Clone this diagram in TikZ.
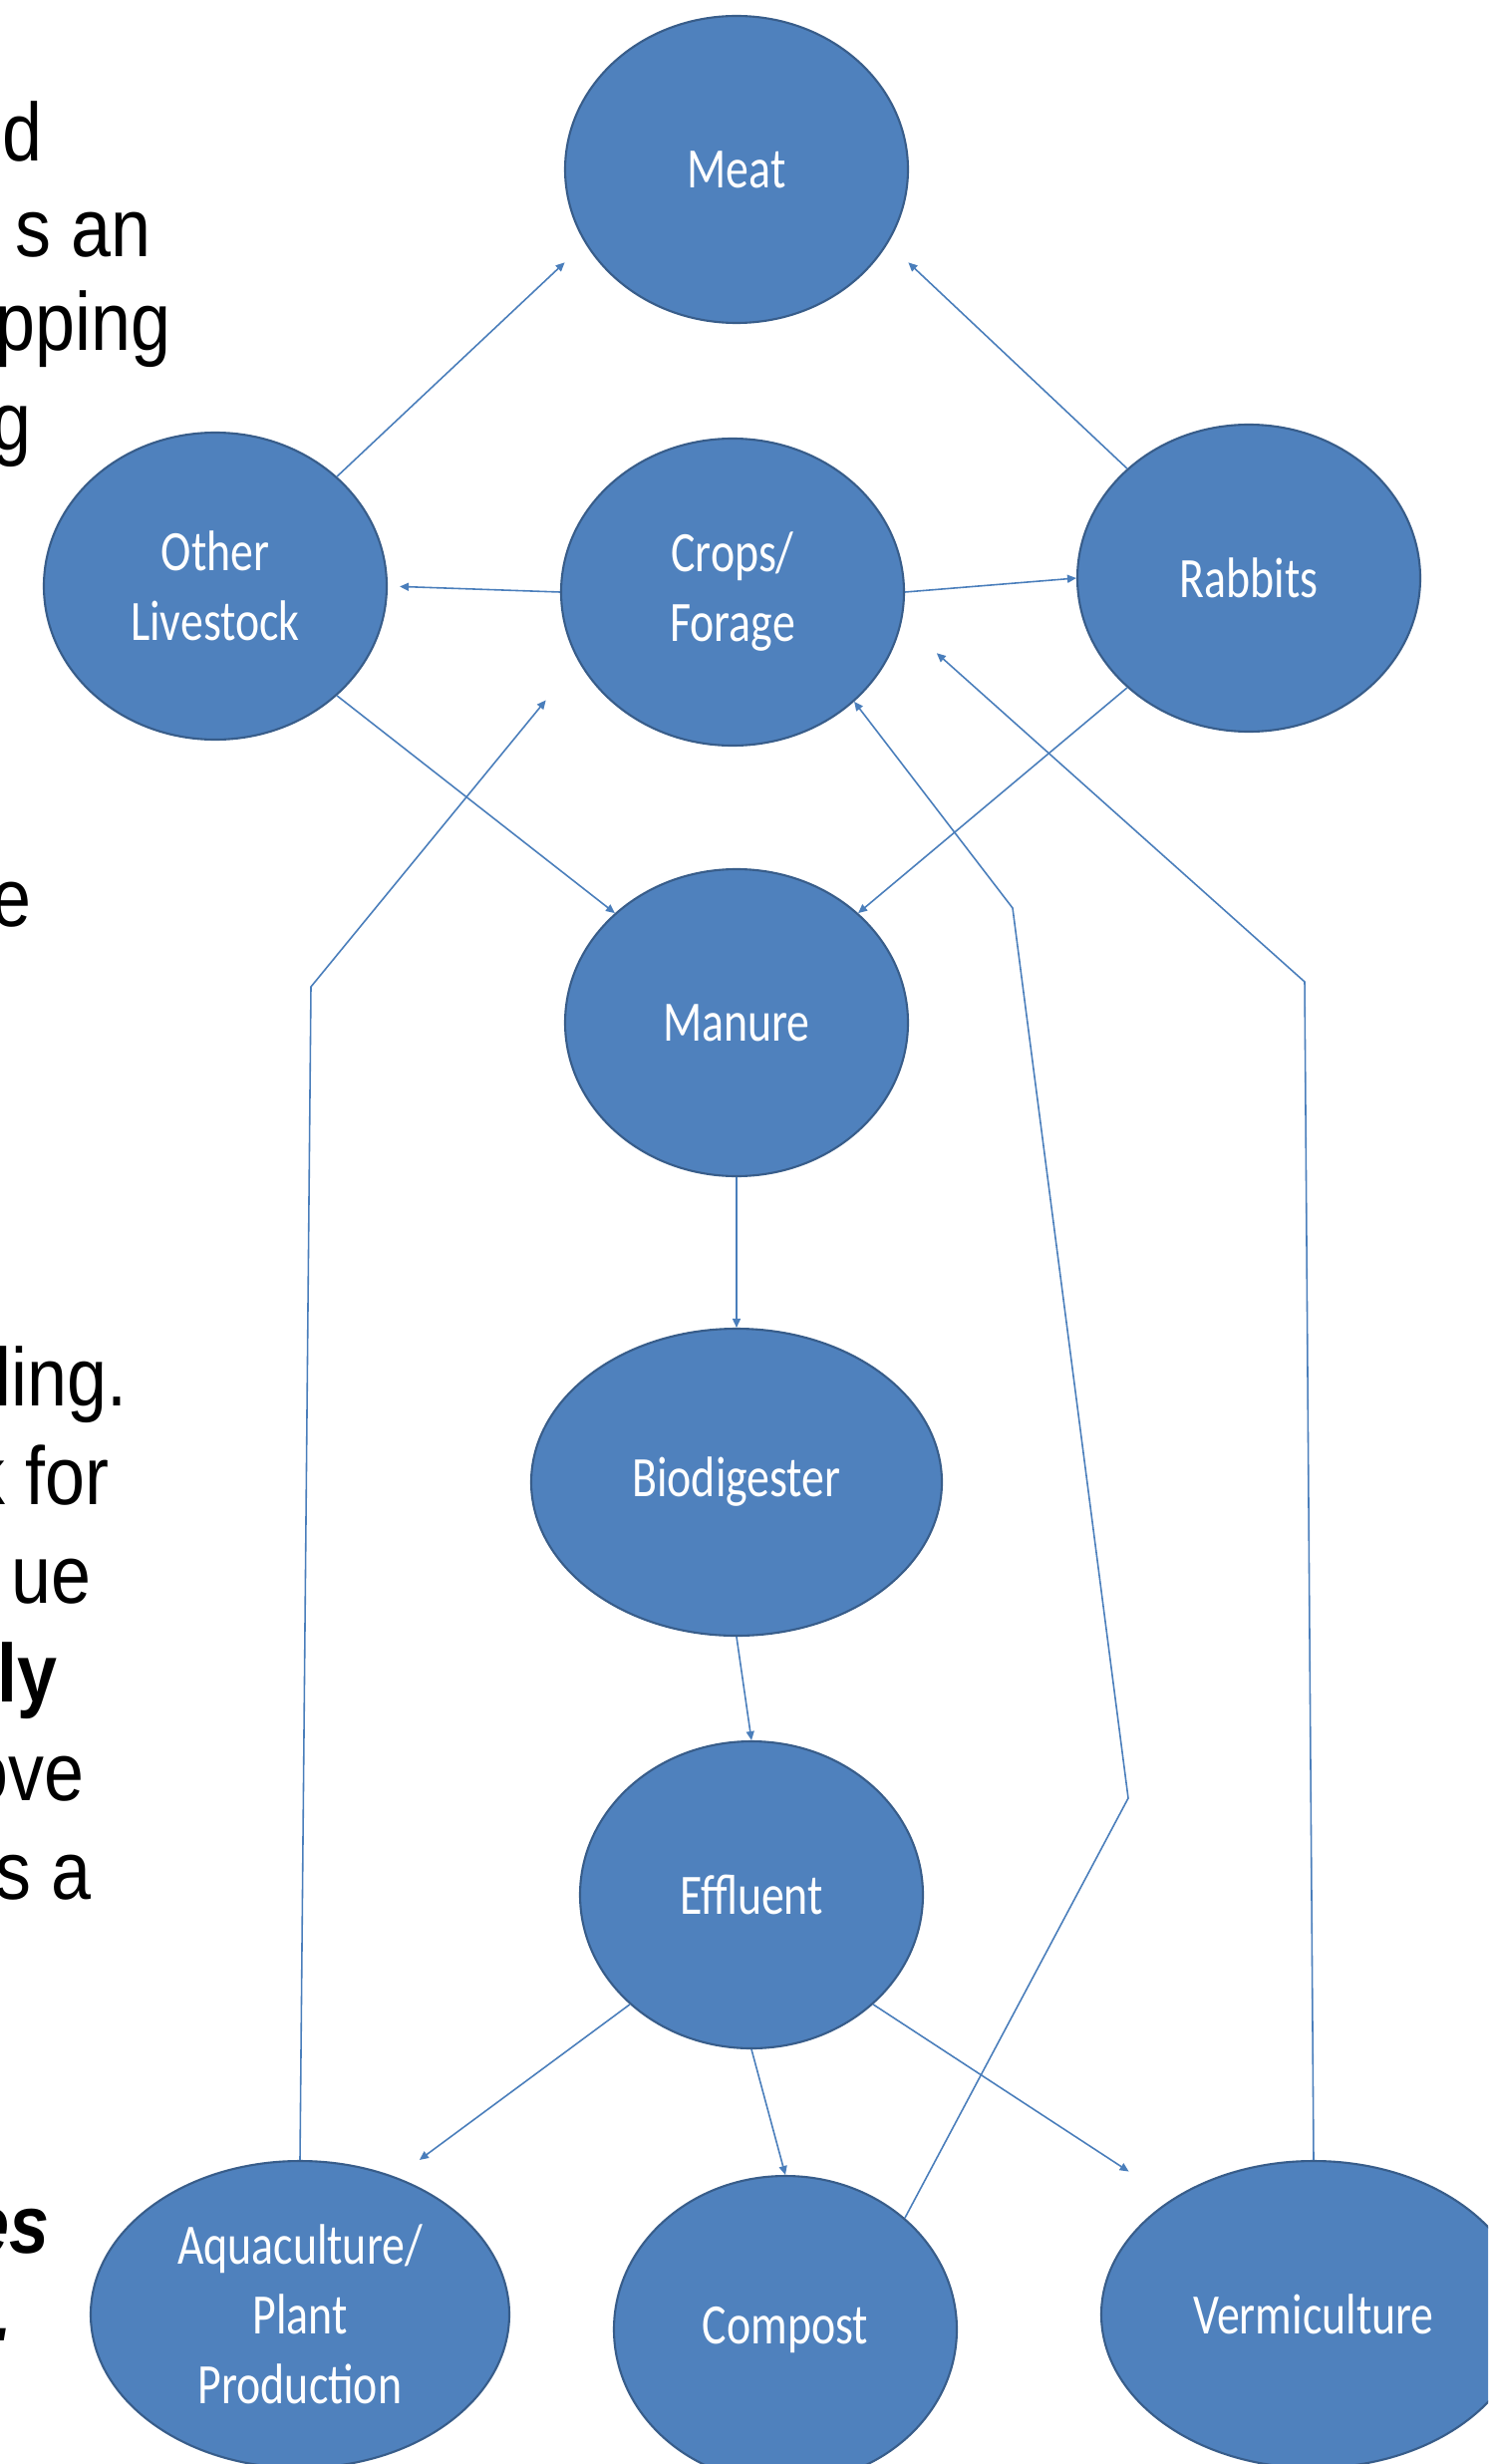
\documentclass[tikz,border=0pt]{standalone}
\usepackage{fontspec}
\usetikzlibrary{calc,shapes.geometric,arrows.meta}
\newfontfamily\labelfont[FakeStretch=0.8]{Carlito}
\newfontfamily\slidefont[FakeStretch=0.87]{Liberation Sans}
\definecolor{nodeblue}{HTML}{4F81BD}
\definecolor{rimblue}{HTML}{385D8A}
\definecolor{linkblue}{HTML}{4A7EBB}
\tikzset{
	stage/.style={ellipse, draw=rimblue, line width=0.6pt, fill=nodeblue, text=white, inner sep=0pt,
		minimum width=34.4mm, minimum height=30.8mm, align=center,
		font=\labelfont\fontsize{16.3}{19.9}\selectfont},
	link/.style={draw=linkblue, line width=0.45pt, -{Triangle[length=0.9mm,width=0.8mm]}},
	slide/.style={anchor=base east, inner sep=0pt, font=\slidefont\fontsize{23.5}{28}\selectfont},
	slidebold/.style={slide, font=\slidefont\bfseries\fontsize{23.5}{28}\selectfont},
	slideboldit/.style={slide, font=\slidefont\bfseries\itshape\fontsize{23.5}{28}\selectfont}
}

\begin{document}
\begin{tikzpicture}[x=0.1mm, y=-0.1mm]
			%%%%% START %%%%%
			
			\useasboundingbox (0, 0) rectangle (1493, 2472);
			\clip (0, 0) rectangle (1493, 2472);
			
			% cut-off slide text on the left
			\node[slide] (lineA) at (43, 162) {d};
			\node[slide] (lineB) at (152, 258) {s an};
			\node[slide] (lineC) at (172, 352) {pping};
			\node[slide] (lineD) at (32, 452) {g};
			\node[slide] (lineE) at (32, 929) {e};
			
			\node[slide] (lineF) at (128, 1410) {ling.};
			\node[slide] (lineG) at (110, 1509) {k for};
			\node[slide] (lineH) at (92, 1608) {ue};
			\node[slidebold] (lineI) at (58, 1707) {ly};
			\node[slide] (lineJ) at (85, 1806) {ove};
			\node[slide] (lineK) at (92, 1905) {s a};
			
			\node[slideboldit] (lineL) at (50, 2260) {es};
			\node[slideboldit] (lineM) at (13, 2348) {.};
			
			% stages
			\node[stage] (meat) at (739, 170) {Meat};
			\node[stage] (other) at (216, 588) {Other\\Livestock};
			\node[stage] (crops) at (735, 594) {Crops/\\Forage};
			\node[stage] (rabbits) at (1253, 580) {Rabbits};
			
			\node[stage] (manure) at (739, 1026) {Manure};
			\node[stage, minimum width=41.2mm] (bio) at (739, 1487) {Biodigester};
			\node[stage] (effluent) at (754, 1901) {Effluent};
			
			\node[stage, minimum width=42mm] (aqua) at (301, 2322) {Aquaculture/\\Plant\\Production};
			\node[stage] (compost) at (788, 2337) {Compost};
			\node[stage, minimum width=42.6mm] (verm) at (1318, 2322) {Vermiculture};
			
			% bends of the long return lines
			\coordinate (aquabend) at (312, 990);
			\coordinate (compostlow) at (1132, 1804);
			\coordinate (composthigh) at (1016, 911);
			\coordinate (vermbend) at (1309, 985);
			
			\draw[link, shorten >=2.8mm] (other.42) -- (meat.206);
			\draw[link, shorten >=2.8mm] (rabbits.138) -- (meat.334);
			\draw[link, shorten >=1.2mm] (crops.west) -- (other.east);
			\draw[link] (crops.east) -- (rabbits.west);
			
			\draw[link] (other.318) -- (manure.138);
			\draw[link] (rabbits.222) -- (manure.42);
			\draw[link] (manure.south) -- (bio.north);
			\draw[link] (bio.south) -- (effluent.north);
			
			\draw[link, shorten >=2.9mm] (effluent.222) -- (aqua.55);
			\draw[link] (effluent.south) -- (compost.north);
			\draw[link, shorten >=5.1mm] (effluent.318) -- (verm.141);
			
			\draw[link, shorten >=5.1mm] (aqua.north) -- (aquabend) -- (crops.204);
			\draw[link] (compost.43) -- (compostlow) -- (composthigh) -- (crops.318);
			\draw[link, shorten >=4.7mm] (verm.north) -- (vermbend) -- (crops.350);
			
			%%%%% END %%%%%
\end{tikzpicture}
\end{document}
